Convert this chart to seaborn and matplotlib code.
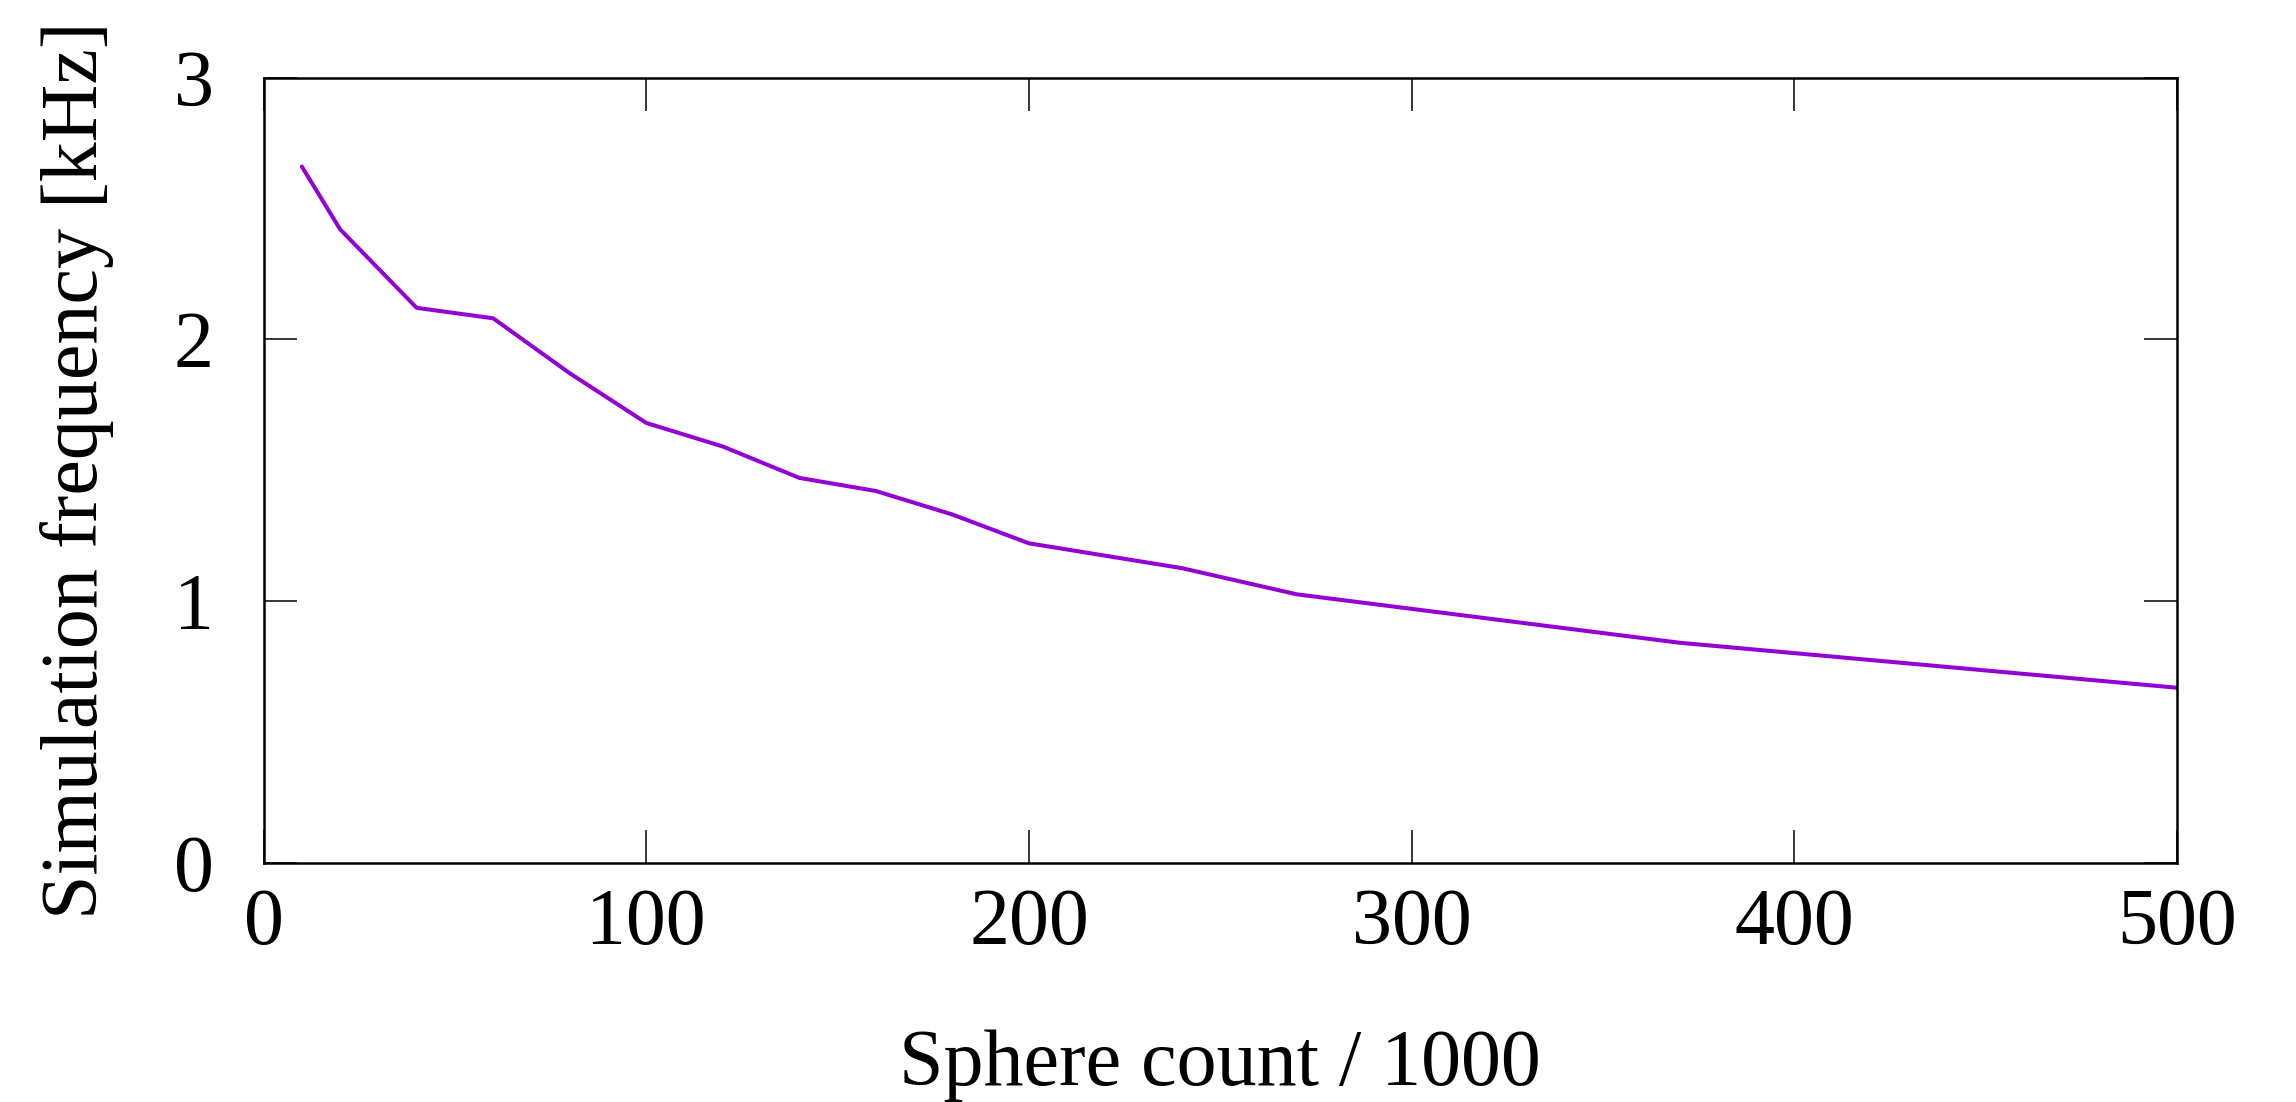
#%%
import numpy as np
import pandas as pd
import matplotlib
matplotlib.use("Agg")
import matplotlib.pyplot as plt
import seaborn as sns

# valores
sphere_count = [10, 20, 40, 60, 80, 100, 120, 140, 160, 180, 200, 240, 270, 370, 500]
freq_khz = [2.66, 2.42, 2.12, 2.08, 1.87, 1.68, 1.59, 1.47, 1.42, 1.33, 1.22, 1.125, 1.025, 0.84, 0.668]

x_ticks = [0, 100, 200, 300, 400, 500]
y_ticks = [0, 1, 2, 3]

df = pd.DataFrame({"spheres": sphere_count, "freq": freq_khz})

#%%
sns.set_theme(style="ticks")
plt.rcParams["font.family"] = ["Liberation Serif", "DejaVu Serif"]
plt.rcParams["text.color"] = "black"
plt.rcParams["axes.labelcolor"] = "black"

fs = 57.6

fig = plt.figure(figsize=(22.96, 11.02), dpi=100)
ax = fig.add_axes([0.1148, 0.2173, 0.8334, 0.7123])

sns.lineplot(data=df, x="spheres", y="freq", ax=ax, color="#9400D3", linewidth=2.9)

ax.set_xlim(0, 500)
ax.set_ylim(0, 3)
ax.set_xticks(x_ticks)
ax.set_yticks(y_ticks)
ax.set_xticklabels([str(t) for t in x_ticks])
ax.set_yticklabels([str(t) for t in y_ticks])

ax.tick_params(axis="both", which="major", direction="in", length=24, width=1.1,
               labelsize=fs, top=True, right=True, colors="black")
ax.tick_params(axis="x", pad=18)
ax.tick_params(axis="y", pad=36)

for s in ax.spines.values():
    s.set_linewidth(1.8)
    s.set_color("black")

ax.set_xlabel("Sphere count / 1000", fontsize=fs, labelpad=49, color="black")
ax.set_ylabel("Simulation frequency [kHz]", fontsize=fs, labelpad=43, color="black")

fig.savefig("out.png", dpi=100, facecolor="white")
